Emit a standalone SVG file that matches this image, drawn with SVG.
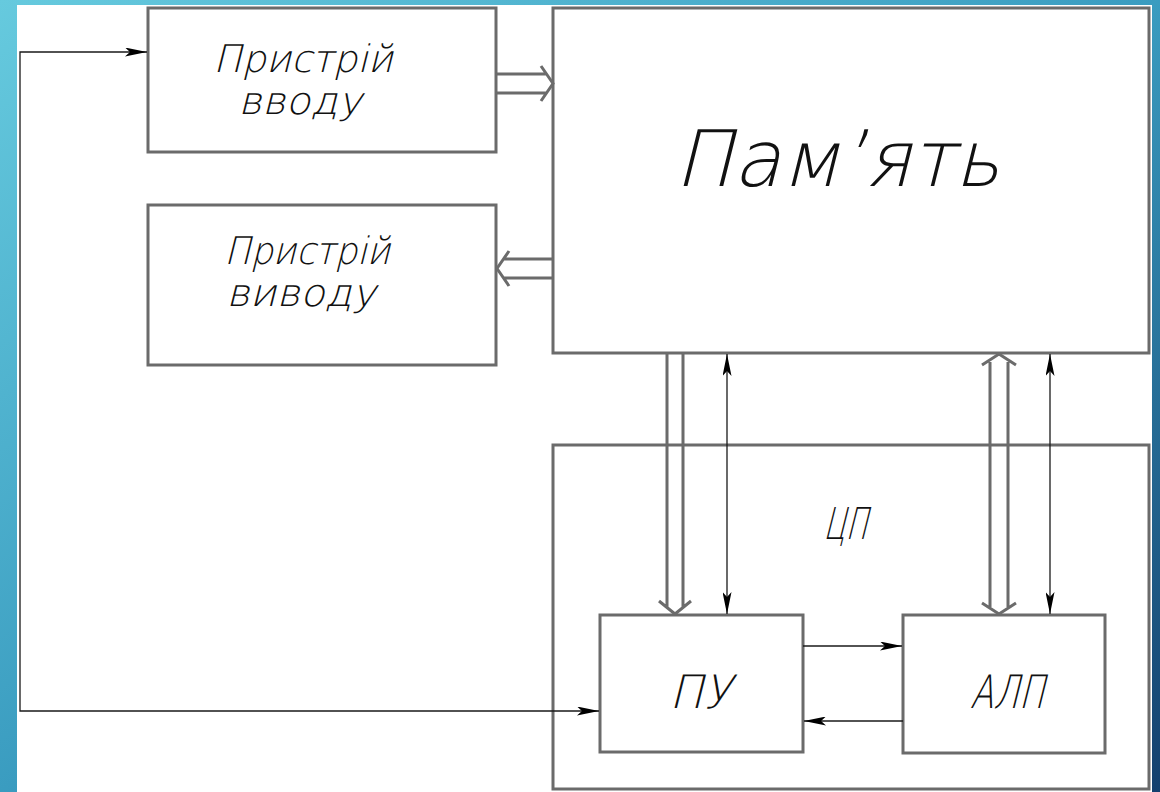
<svg xmlns="http://www.w3.org/2000/svg" width="1160" height="792" viewBox="0 0 1160 792">
<defs>
<linearGradient id="bg" x1="0" y1="0" x2="1" y2="1">
<stop offset="0" stop-color="#66cade"/>
<stop offset="0.5" stop-color="#3a9cc0"/>
<stop offset="1" stop-color="#13406e"/>
</linearGradient>
<marker id="ah" viewBox="0 0 22 9" refX="22" refY="4.5" markerWidth="22" markerHeight="9" markerUnits="userSpaceOnUse" orient="auto-start-reverse">
<path d="M0,0 L22,4.5 L0,9 L5,4.5 Z" fill="#000"/>
</marker>
<style>
.box{fill:none;stroke:#6b6b6b;stroke-width:3}
.fat{fill:none;stroke:#6b6b6b;stroke-width:3;stroke-linejoin:miter}
.thin{fill:none;stroke:#1a1a1a;stroke-width:1.3}
.t{font-family:"DejaVu Sans","Liberation Sans",sans-serif;font-weight:200;fill:#111;text-anchor:middle}
</style>
</defs>
<rect x="0" y="0" width="1160" height="792" fill="url(#bg)"/>
<rect x="17" y="5" width="1135" height="787" fill="#fff"/>

<g id="input">
<rect class="box" x="148" y="8" width="348" height="144"/>
<text class="t" transform="translate(303,72) skewX(-14)" font-size="38" textLength="180" lengthAdjust="spacingAndGlyphs">Пристрій</text>
<text class="t" transform="translate(300,114) skewX(-14)" font-size="38" textLength="124" lengthAdjust="spacingAndGlyphs">вводу</text>
</g>
<g id="output">
<rect class="box" x="148" y="205" width="348" height="160"/>
<text class="t" transform="translate(307,264) skewX(-14)" font-size="38" textLength="166" lengthAdjust="spacingAndGlyphs">Пристрій</text>
<text class="t" transform="translate(301,306) skewX(-14)" font-size="38" textLength="150" lengthAdjust="spacingAndGlyphs">виводу</text>
</g>
<g id="memory">
<rect class="box" x="553" y="8" width="596" height="345"/>
<text class="t" transform="translate(837,186) skewX(-14)" font-size="78" textLength="326" lengthAdjust="spacingAndGlyphs">Пам’ять</text>
</g>
<g id="cpu">
<rect class="box" x="553" y="445" width="596" height="344"/>
<text class="t" transform="translate(845,539) skewX(-14)" font-size="44" textLength="44" lengthAdjust="spacingAndGlyphs">ЦП</text>
</g>
<g id="pu">
<rect class="box" x="600" y="615" width="203" height="137"/>
<text class="t" transform="translate(700,708) skewX(-14)" font-size="46" textLength="62" lengthAdjust="spacingAndGlyphs">ПУ</text>
</g>
<g id="alu">
<rect class="box" x="903" y="615" width="202" height="138"/>
<text class="t" transform="translate(1007,708) skewX(-14)" font-size="46" textLength="74" lengthAdjust="spacingAndGlyphs">АЛП</text>
</g>

<g id="connectors">
<path class="fat" d="M496,74 H547 M496,93 H547 M541,66 L553,83.5 L541,101"/>
<path class="fat" d="M553,259 H503 M553,278 H503 M509,251 L497,268.5 L509,286"/>
<path class="fat" d="M667,353 V607 M683,353 V607 M659,601 L675,614 L691,601"/>
<path class="fat" d="M990,362 V607 M1008,362 V607 M982,365 L999,354 L1016,365 M982,603 L999,614 L1016,603"/>
<line class="thin" x1="727" y1="354" x2="727" y2="614" marker-start="url(#ah)" marker-end="url(#ah)"/>
<line class="thin" x1="1050" y1="354" x2="1050" y2="614" marker-start="url(#ah)" marker-end="url(#ah)"/>
<line class="thin" x1="803" y1="646" x2="902" y2="646" marker-end="url(#ah)"/>
<line class="thin" x1="903" y1="721" x2="804" y2="721" marker-end="url(#ah)"/>
<polyline class="thin" points="599,711 20,711 20,52 147,52" marker-start="url(#ah)" marker-end="url(#ah)"/>
</g>
</svg>
